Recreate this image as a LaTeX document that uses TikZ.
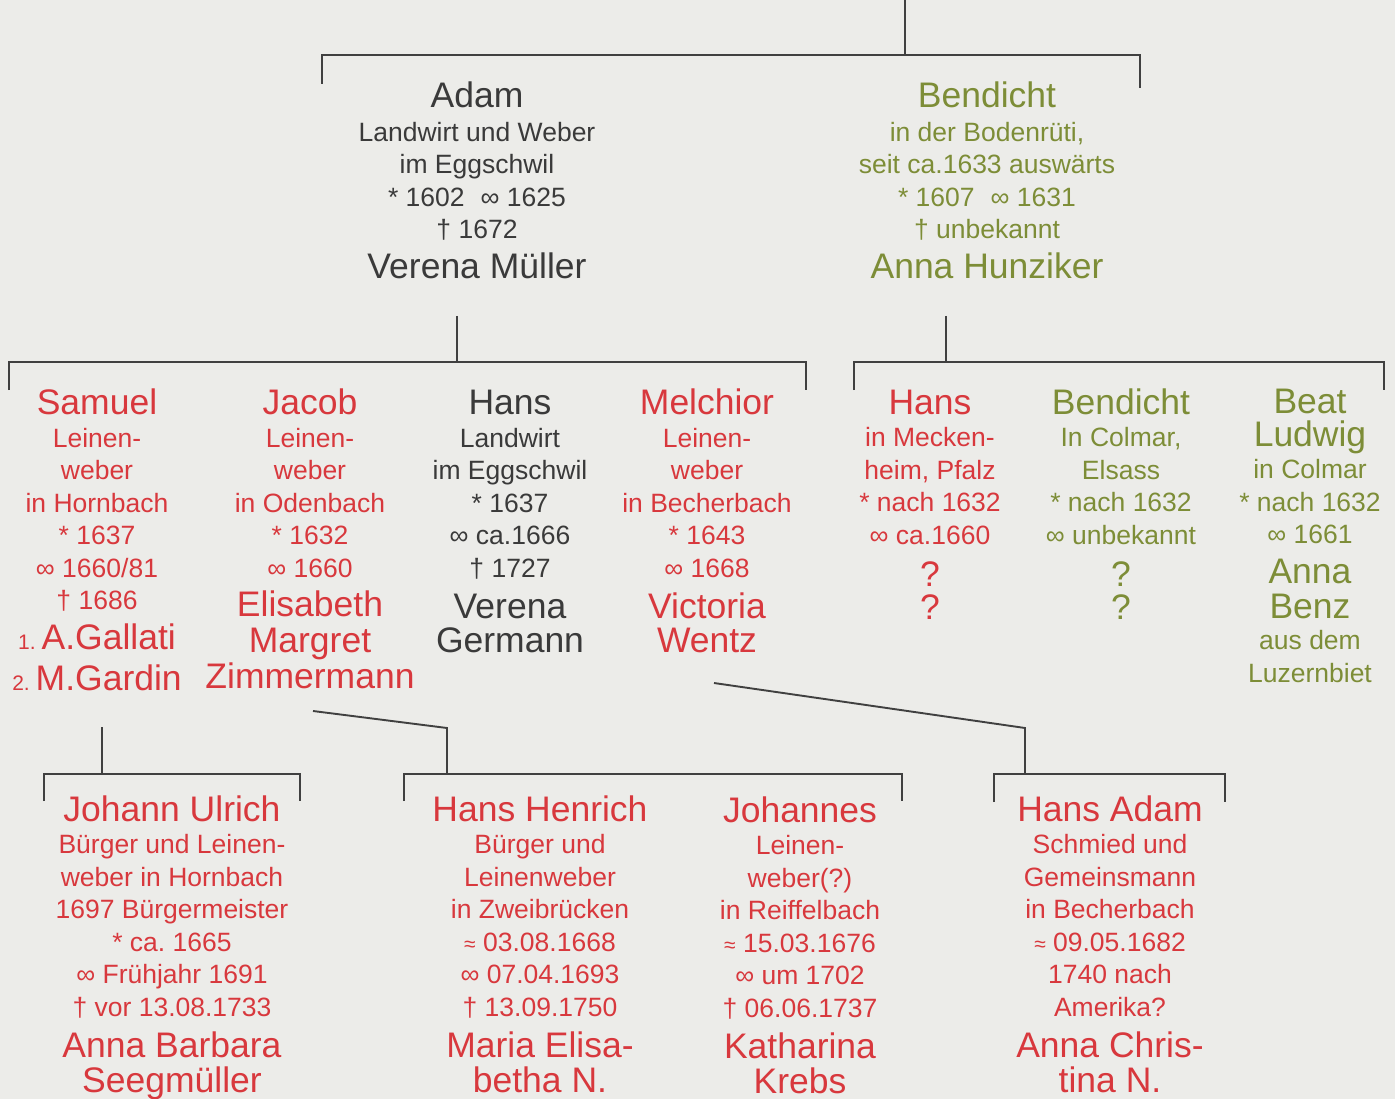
\documentclass[tikz,border=0pt]{standalone}
\usepackage{fontspec}
\setmainfont{Liberation Sans}
\usepackage{tikz}
\usetikzlibrary{positioning}
\usepackage{xcolor}
\definecolor{famBg}{HTML}{ECECE9}
\definecolor{famInk}{HTML}{3A3A3A}
\definecolor{famRed}{HTML}{D8383D}
\definecolor{famGreen}{HTML}{7D8D37}
\definecolor{famLine}{HTML}{404040}
\frenchspacing
\newcommand{\nm}[1]{{\fontsize{35.5}{38}\selectfont #1}}
\newcommand{\sm}[1]{{\fontsize{21}{22}\selectfont #1}}
\newcommand{\persfont}{\fontsize{26.5}{32.5}\selectfont\lineskiplimit=-100pt}
\tikzset{
  person/.style  = {align=center, inner sep=0pt, anchor=base, font=\persfont},
  pdark/.style   = {person, text=famInk},
  pred/.style    = {person, text=famRed},
  pgreen/.style  = {person, text=famGreen},
  tree/.style    = {draw=famLine, line width=1.9pt},
}

\begin{document}
\begin{tikzpicture}[x=1pt, y=-1pt]
  \path[fill=famBg, use as bounding box] (0,0) rectangle (1395,1099);

  \node[pdark] (adam) at (477,279)
    {\nm{Adam}\\[1.5pt] Landwirt und Weber\\ im Eggschwil\\
     * 1602\hspace{16pt}∞ 1625\\ † 1672\\[7.5pt] \nm{Verena Müller}};
  \node[pgreen] (bendicht) at (987,279)
    {\nm{Bendicht}\\[1.5pt] in der Bodenrüti,\\ seit ca.1633 auswärts\\
     * 1607\hspace{16pt}∞ 1631\\ † unbekannt\\[7.5pt] \nm{Anna Hunziker}};

  \node[pred] (samuel) at (97,690)
    {\nm{Samuel}\\ Leinen-\\ weber\\ in Hornbach\\ * 1637\\ ∞ 1660/81\\ † 1686\\[7pt]
     \nm{\sm{1.}\,A.Gallati}\\[8.5pt] \nm{\sm{2.}\,M.Gardin}};
  \node[pred] (jacob) at (310,688)
    {\nm{Jacob}\\ Leinen-\\ weber\\ in Odenbach\\ * 1632\\ ∞ 1660\\[6.5pt]
     \nm{Elisabeth}\\[3.5pt] \nm{Margret}\\[3.5pt] \nm{Zimmermann}};
  \node[pdark] (hans) at (510,652)
    {\nm{Hans}\\ Landwirt\\ im Eggschwil\\ * 1637\\ ∞ ca.1666\\ † 1727\\[8.5pt]
     \nm{Verena}\\[1.5pt] \nm{Germann}};
  \node[pred] (melchior) at (707,652)
    {\nm{Melchior}\\ Leinen-\\ weber\\ in Becherbach\\ * 1643\\ ∞ 1668\\[8.5pt]
     \nm{Victoria}\\[1.5pt] \nm{Wentz}};
  \node[pred] (hansPfalz) at (930,619)
    {\nm{Hans}\\ in Mecken-\\ heim, Pfalz\\ * nach 1632\\ ∞ ca.1660\\[9.5pt]
     \nm{?}\\[0.5pt] \nm{?}};
  \node[pgreen] (bendichtC) at (1121,619)
    {\nm{Bendicht}\\ In Colmar,\\ Elsass\\ * nach 1632\\ ∞ unbekannt\\[9.5pt]
     \nm{?}\\[0.5pt] \nm{?}};
  \node[pgreen] (beat) at (1310,682)
    {\nm{Beat}\\ \nm{Ludwig}\\ in Colmar\\ * nach 1632\\ ∞ 1661\\[7.5pt]
     \nm{Anna}\\[2.5pt] \nm{Benz}\\[-1.5pt] aus dem\\ Luzernbiet};

  \node[pred] (johannU) at (172,1092)
    {\nm{Johann Ulrich}\\ Bürger und Leinen-\\ weber in Hornbach\\ 1697 Bürgermeister\\
     * ca. 1665\\ ∞ Frühjahr 1691\\ † vor 13.08.1733\\[8.5pt]
     \nm{Anna Barbara}\\[2.5pt] \nm{Seegmüller}};
  \node[pred] (hansH) at (540,1092)
    {\nm{Hans Henrich}\\ Bürger und\\ Leinenweber\\ in Zweibrücken\\
     \sm{≈} 03.08.1668\\ ∞ 07.04.1693\\ † 13.09.1750\\[8.5pt]
     \nm{Maria Elisa-}\\[2.5pt] \nm{betha N.}};
  \node[pred] (johannes) at (800,1093)
    {\nm{Johannes}\\ Leinen-\\ weber(?)\\ in Reiffelbach\\
     \sm{≈} 15.03.1676\\ ∞ um 1702\\ † 06.06.1737\\[8.5pt]
     \nm{Katharina}\\[2.5pt] \nm{Krebs}};
  \node[pred] (hansA) at (1110,1092)
    {\nm{Hans Adam}\\ Schmied und\\ Gemeinsmann\\ in Becherbach\\
     \sm{≈} 09.05.1682\\ 1740 nach\\ Amerika?\\[8.5pt]
     \nm{Anna Chris-}\\[2.5pt] \nm{tina N.}};

  \coordinate (top) at (905,0);
  \coordinate (topJ) at (905,55);
  \coordinate (topL) at (322,84);
  \coordinate (topR) at (1140,88);
  \draw[tree] (top) -- (topJ);
  \draw[tree] (topL) |- (topJ) -| (topR);

  \coordinate (adamJ) at (457,316);
  \coordinate (adamB) at (457,362);
  \coordinate (adamL) at (9,390);
  \coordinate (adamR) at (806,390);
  \draw[tree] (adamJ) -- (adamB);
  \draw[tree] (adamL) |- (adamB) -| (adamR);

  \coordinate (bendJ) at (946,316);
  \coordinate (bendB) at (946,362);
  \coordinate (bendL) at (854,390);
  \coordinate (bendR) at (1384,390);
  \draw[tree] (bendJ) -- (bendB);
  \draw[tree] (bendL) |- (bendB) -| (bendR);

  \coordinate (samJ) at (102,727);
  \coordinate (samB) at (102,774);
  \coordinate (samL) at (44,801);
  \coordinate (samR) at (300,801);
  \draw[tree] (samJ) -- (samB);
  \draw[tree] (samL) |- (samB) -| (samR);

  \coordinate (jacJ) at (313,711);
  \coordinate (jacK) at (447,728);
  \coordinate (jacB) at (447,774);
  \coordinate (jacL) at (404,801);
  \coordinate (jacR) at (902,801);
  \draw[tree] (jacJ) -- (jacK) -- (jacB);
  \draw[tree] (jacL) |- (jacB) -| (jacR);

  \coordinate (melJ) at (714,683);
  \coordinate (melK) at (1025,728);
  \coordinate (melB) at (1025,774);
  \coordinate (melL) at (994,802);
  \coordinate (melR) at (1225,802);
  \draw[tree] (melJ) -- (melK) -- (melB);
  \draw[tree] (melL) |- (melB) -| (melR);
\end{tikzpicture}
\end{document}
